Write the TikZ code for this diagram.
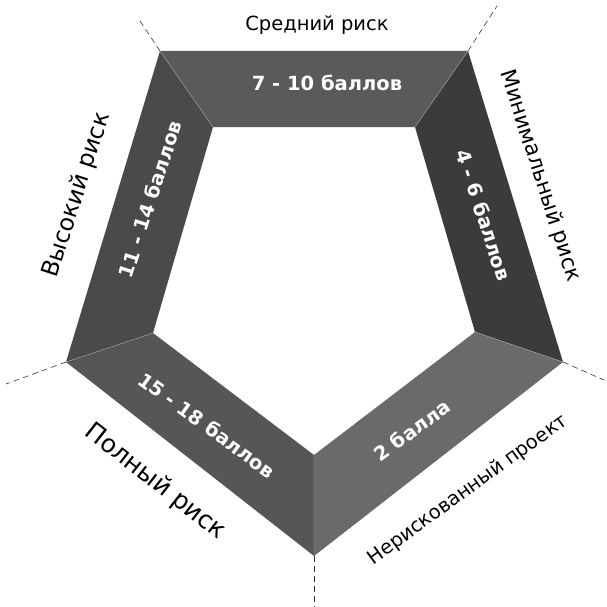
\documentclass[tikz,border=0pt]{standalone}
\usepackage{fontspec}
\setmainfont{DejaVu Sans}
\definecolor{segtopc}{HTML}{5A5A5A}
\definecolor{segrightc}{HTML}{3B3B3B}
\definecolor{segleftc}{HTML}{4A4A4A}
\definecolor{segblc}{HTML}{565656}
\definecolor{segbrc}{HTML}{6A6A6A}
\begin{document}
\begin{tikzpicture}[x=1pt,y=-1pt,
  seg/.style={draw=gray!70!white,line width=0.4pt,line join=miter},
  val/.style={text=white,font=\bfseries\fontsize{19.5}{22}\selectfont,inner sep=0pt},
  risk/.style={text=black,inner sep=0pt},
  sep/.style={draw=black!80,line width=0.6pt,dash pattern=on 6pt off 4pt}]
\useasboundingbox (0,0) rectangle (606,607);
% outer vertices
\coordinate (O1) at (160,51);
\coordinate (O2) at (468,51);
\coordinate (O3) at (563,362);
\coordinate (O4) at (314,556);
\coordinate (O5) at (66,362);
% inner vertices
\coordinate (I1) at (213,127);
\coordinate (I2) at (415,127);
\coordinate (I3) at (475,332);
\coordinate (I4) at (314,455);
\coordinate (I5) at (153,333);
% dashed ends
\coordinate (E1) at (138,18);
\coordinate (E2) at (497,6);
\coordinate (E3) at (604,380);
\coordinate (E4) at (314,607);
\coordinate (E5) at (6,384);
% segments
\fill[segtopc] (O1)--(O2)--(I2)--(I1)--cycle;
\fill[segrightc] (O2)--(O3)--(I3)--(I2)--cycle;
\fill[segbrc] (O3)--(O4)--(I4)--(I3)--cycle;
\fill[segblc] (O4)--(O5)--(I5)--(I4)--cycle;
\fill[segleftc] (O5)--(O1)--(I1)--(I5)--cycle;
\draw[seg] (O1)--(I1) (O2)--(I2) (O3)--(I3) (O4)--(I4) (O5)--(I5);
% separators
\draw[sep] (O1)--(E1);
\draw[sep] (O2)--(E2);
\draw[sep] (O3)--(E3);
\draw[sep] (O4)--(E4);
\draw[sep] (O5)--(E5);
% values
\node[val] (v1) at (327,83) {7 - 10 баллов};
\node[val,rotate=-72] (v2) at (484,215) {4 - 6 баллов};
\node[val,rotate=-36] (v3) at (207,425) {15 - 18 баллов};
\node[val,rotate=36] (v4) at (412,430) {2 балла};
\node[val,rotate=72] (v5) at (150,199) {11 - 14 баллов};
% risk labels
\node[risk,font=\fontsize{19.5}{22}\selectfont] (r1) at (317,25) {Средний риск};
\node[risk,font=\fontsize{21.5}{24}\selectfont,rotate=-72] (r2) at (540,176) {Минимальный риск};
\node[risk,font=\fontsize{23.5}{26}\selectfont,rotate=72] (r5) at (77,195) {Высокий риск};
\node[risk,font=\fontsize{25}{28}\selectfont,rotate=-38] (r3) at (155,482) {Полный риск};
\node[risk,font=\fontsize{19.5}{22}\selectfont,rotate=36] (r4) at (468,490) {Нерискованный проект};
\end{tikzpicture}
\end{document}
